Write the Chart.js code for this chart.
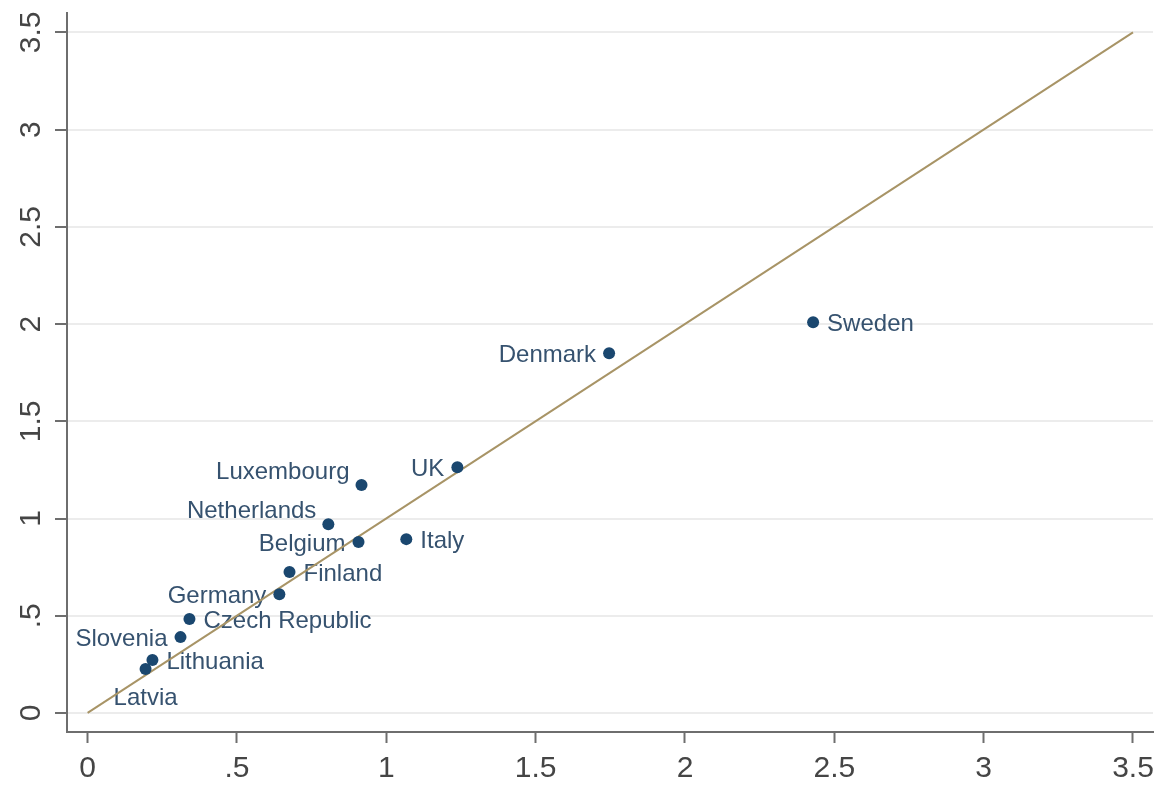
<!DOCTYPE html>
<html>
<head>
<meta charset="utf-8">
<script src="https://cdn.jsdelivr.net/npm/chart.js@4"></script>
<style>
html,body{margin:0;padding:0;background:#fff;}
#wrap{width:1166px;height:787px;position:relative;}
</style>
</head>
<body>
<div id="wrap"><canvas id="c" width="1166" height="787"></canvas></div>
<script>
// ---- data ----
const countries = ['Latvia','Lithuania','Slovenia','Czech Republic','Germany','Finland','Belgium','Netherlands','Luxembourg','Italy','UK','Denmark','Sweden'];
const xValues = [0.194, 0.217, 0.311, 0.341, 0.642, 0.676, 0.907, 0.806, 0.917, 1.067, 1.238, 1.746, 2.429];
const yValues = [0.226, 0.272, 0.390, 0.483, 0.611, 0.725, 0.879, 0.971, 1.172, 0.894, 1.264, 1.850, 2.009];
const lineX = [0, 3.5];
const lineY = [0, 3.5];
const xTickValues = [0, 0.5, 1, 1.5, 2, 2.5, 3, 3.5];
const xTickLabels = ['0', '.5', '1', '1.5', '2', '2.5', '3', '3.5'];
const yTickValues = [0, 0.5, 1, 1.5, 2, 2.5, 3, 3.5];
const yTickLabels = ['0', '.5', '1', '1.5', '2', '2.5', '3', '3.5'];

// ---- style ----
const FONT = '"Liberation Sans", Arial, sans-serif';
const labelClock = {
  'Latvia': 6, 'Lithuania': 3, 'Slovenia': 9, 'Czech Republic': 3, 'Germany': 9,
  'Finland': 3, 'Belgium': 9, 'Netherlands': 10, 'Luxembourg': 10, 'Italy': 3,
  'UK': 9, 'Denmark': 9, 'Sweden': 3
};

const markerLabels = {
  id: 'markerLabels',
  beforeDatasetsDraw(chart) {
    const ctx = chart.ctx;
    const meta = chart.getDatasetMeta(0);
    ctx.save();
    ctx.font = '24px ' + FONT;
    ctx.fillStyle = '#36526f';
    ctx.textBaseline = 'middle';
    meta.data.forEach((pt, i) => {
      const name = countries[i];
      const pos = labelClock[name];
      let x = pt.x, y = pt.y + 2;
      if (pos === 3) { ctx.textAlign = 'left'; x += 14; }
      else if (pos === 9) { ctx.textAlign = 'right'; x -= 13; }
      else if (pos === 10) { ctx.textAlign = 'right'; x -= 12; y -= 15; }
      else if (pos === 6) { ctx.textAlign = 'center'; y += 27; }
      ctx.fillText(name, x, y);
    });
    ctx.restore();
  }
};

const yLabels = {
  id: 'yLabels',
  afterDraw(chart) {
    const ctx = chart.ctx;
    const s = chart.scales.y;
    ctx.save();
    ctx.font = '30px ' + FONT;
    ctx.fillStyle = '#454545';
    ctx.textAlign = 'center';
    ctx.textBaseline = 'alphabetic';
    yTickValues.forEach((v, i) => {
      const py = s.getPixelForValue(v);
      ctx.save();
      ctx.translate(40, py);
      ctx.rotate(-Math.PI / 2);
      ctx.fillText(yTickLabels[i], 0, 0);
      ctx.restore();
    });
    ctx.restore();
  }
};

new Chart(document.getElementById('c'), {
  type: 'scatter',
  data: {
    datasets: [
      {
        label: 'countries',
        data: xValues.map((x, i) => ({ x: x, y: yValues[i] })),
        backgroundColor: '#1a476f',
        borderColor: '#1a476f',
        pointRadius: 6,
        pointHoverRadius: 6,
        borderWidth: 0
      },
      {
        label: '45 degree line',
        type: 'line',
        data: lineX.map((x, i) => ({ x: x, y: lineY[i] })),
        borderColor: '#a89466',
        borderWidth: 2,
        pointRadius: 0,
        fill: false
      }
    ]
  },
  options: {
    responsive: false,
    animation: false,
    events: [],
    layout: { padding: { top: 13, right: 13, left: 0, bottom: 0 } },
    plugins: { legend: { display: false }, tooltip: { enabled: false } },
    scales: {
      x: {
        type: 'linear',
        min: -0.069,
        max: 3.567,
        afterFit(s) { s.height = 55; },
        afterBuildTicks(s) { s.ticks = xTickValues.map(v => ({ value: v })); },
        border: { display: true, color: '#6e6e6e', width: 2 },
        grid: { display: true, drawOnChartArea: false, drawTicks: true, tickLength: 11, tickColor: '#6e6e6e', tickWidth: 2 },
        ticks: {
          font: { family: FONT, size: 30 },
          color: '#454545',
          padding: 8,
          maxRotation: 0,
          autoSkip: false,
          callback(v) { const i = xTickValues.indexOf(v); return i >= 0 ? xTickLabels[i] : ''; }
        }
      },
      y: {
        type: 'linear',
        min: -0.098,
        max: 3.6,
        afterFit(s) { s.width = 67; },
        afterBuildTicks(s) { s.ticks = yTickValues.map(v => ({ value: v })); },
        border: { display: true, color: '#6e6e6e', width: 2 },
        grid: { display: true, color: '#ececec', lineWidth: 2, drawTicks: true, tickLength: 12, tickColor: '#6e6e6e', tickWidth: 2 },
        ticks: { display: false }
      }
    }
  },
  plugins: [markerLabels, yLabels]
});
</script>
</body>
</html>
